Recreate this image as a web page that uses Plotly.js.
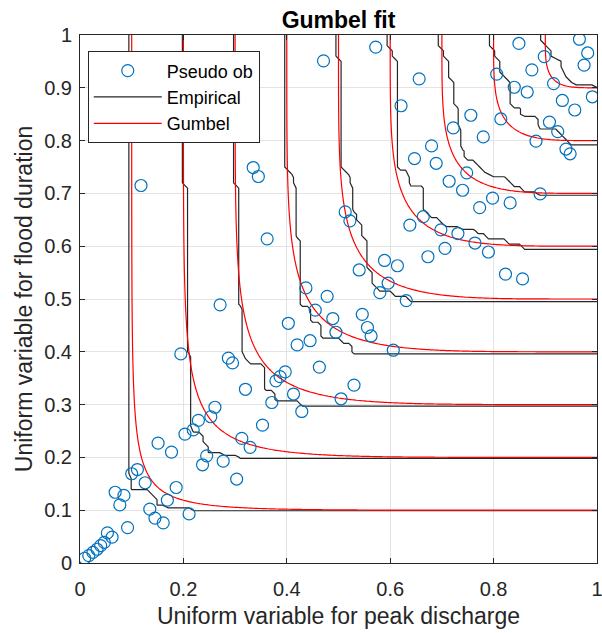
<!DOCTYPE html>
<html>
<head>
<meta charset="utf-8">
<script src="https://cdn.plot.ly/plotly-3.0.1.min.js"></script>
<style>html,body{margin:0;padding:0;background:#fff;overflow:hidden}#chart{width:602px;height:633px}</style>
</head>
<body>
<div id="chart"></div>
<script>
const pseudoU = [
0.009,0.017,0.025,0.033,0.040,0.047,0.053,0.062,0.068,0.077,0.085,0.092,
0.100,0.111,0.118,0.126,0.135,0.145,0.151,0.161,0.169,0.177,0.186,0.195,
0.203,0.211,0.219,0.229,0.237,0.245,0.253,0.261,0.271,0.277,0.287,0.295,
0.303,0.313,0.320,0.329,0.335,0.345,0.353,0.362,0.371,0.379,0.387,0.397,
0.403,0.413,0.420,0.429,0.437,0.445,0.455,0.463,0.471,0.478,0.489,0.495,
0.505,0.513,0.522,0.530,0.540,0.546,0.556,0.563,0.572,0.580,0.589,0.596,
0.606,0.614,0.621,0.631,0.638,0.647,0.656,0.664,0.673,0.680,0.689,0.698,
0.706,0.714,0.722,0.731,0.740,0.748,0.756,0.764,0.773,0.780,0.790,0.798,
0.806,0.814,0.823,0.832,0.840,0.849,0.856,0.865,0.874,0.882,0.890,0.898,
0.908,0.916,0.924,0.933,0.940,0.948,0.957,0.966,0.975,0.982,0.991
];
const pseudoV = [
0.009,0.014,0.020,0.026,0.033,0.039,0.057,0.049,0.134,0.110,0.128,0.067,
0.169,0.177,0.715,0.152,0.102,0.085,0.227,0.076,0.119,0.210,0.143,0.396,
0.244,0.093,0.252,0.270,0.186,0.203,0.277,0.295,0.489,0.193,0.388,0.379,
0.159,0.236,0.329,0.219,0.749,0.732,0.261,0.614,0.304,0.345,0.353,0.362,
0.454,0.320,0.413,0.287,0.521,0.421,0.479,0.371,0.951,0.505,0.463,0.437,
0.311,0.665,0.648,0.337,0.555,0.471,0.446,0.430,0.977,0.512,0.573,0.530,
0.403,0.563,0.866,0.497,0.640,0.766,0.917,0.656,0.580,0.790,0.757,0.631,
0.596,0.723,0.824,0.624,0.706,0.739,0.848,0.606,0.673,0.807,0.589,0.691,
0.926,0.841,0.547,0.682,0.901,0.984,0.538,0.892,0.934,0.799,0.699,0.959,
0.835,0.908,0.817,0.876,0.784,0.775,0.858,0.992,0.943,0.966,0.883
];
const contourLevels = [0.1,0.2,0.3,0.4,0.5,0.6,0.7,0.8,0.9];
const gumbelTheta = 3.8;       // fitted Gumbel copula parameter
const xTickVals = [0,0.2,0.4,0.6,0.8,1];
const yTickVals = [0,0.1,0.2,0.3,0.4,0.5,0.6,0.7,0.8,0.9,1];
const legendNames = ['Pseudo ob','Empirical','Gumbel'];

// grids
function grid(step){const g=[];const n=Math.round(1/step);for(let i=0;i<=n;i++)g.push(i/n);return g;}
const gE = grid(0.01);
const gG = grid(0.005);

// empirical copula
const nObs = pseudoU.length;
const zEmp = gE.map(b => gE.map(a => {
  let c=0; for(let i=0;i<nObs;i++){ if(pseudoU[i]<=a && pseudoV[i]<=b) c++; }
  return c/nObs;
}));
// Gumbel copula CDF
function gumbel(a,b,t){
  if(a<=0||b<=0) return 0;
  const s = Math.pow(-Math.log(a),t)+Math.pow(-Math.log(b),t);
  return Math.exp(-Math.pow(s,1/t));
}
const zGum = gG.map(b => gG.map(a => gumbel(a,b,gumbelTheta)));

const cStart = contourLevels[0], cEnd = contourLevels[contourLevels.length-1];
const cSize = contourLevels[1]-contourLevels[0];

const traces = [
  {type:'scatter', mode:'markers', x:pseudoU, y:pseudoV, name:legendNames[0],
   marker:{symbol:'circle-open', size:12, color:'#0072BD', line:{width:1.2, color:'#0072BD'}},
   hoverinfo:'skip'},
  {type:'contour', x:gE, y:gE, z:zEmp, name:legendNames[1], showlegend:true, showscale:false,
   autocontour:false, contours:{start:cStart, end:cEnd, size:cSize, coloring:'lines'},
   colorscale:[[0,'#262626'],[1,'#262626']], line:{width:1.2, smoothing:0}, hoverinfo:'skip'},
  {type:'contour', x:gG, y:gG, z:zGum, name:legendNames[2], showlegend:true, showscale:false,
   autocontour:false, contours:{start:cStart, end:cEnd, size:cSize, coloring:'lines'},
   colorscale:[[0,'#ff0000'],[1,'#ff0000']], line:{width:1.2}, hoverinfo:'skip'}
];

const axisCommon = {
  range:[0,1], ticks:'inside', ticklen:5, tickcolor:'#262626', tickwidth:1,
  showline:true, linecolor:'#262626', linewidth:1, mirror:'ticks',
  showgrid:true, gridcolor:'#e3e3e3', gridwidth:1, zeroline:false,
  tickfont:{size:20, color:'#262626'}, fixedrange:true, ticklabeloverflow:'allow'
};

const layout = {
  width:602, height:633,
  margin:{l:80, r:5, t:35, b:70, pad:0},
  paper_bgcolor:'#ffffff', plot_bgcolor:'#ffffff',
  font:{family:'"Liberation Sans", Arial, sans-serif', color:'#262626', size:20},
  title:{text:'Gumbel fit', font:{size:23, weight:'bold', color:'#000000'},
         x:0.5, xref:'paper', xanchor:'center', y:0.969, yref:'container', yanchor:'middle'},
  xaxis:Object.assign({}, axisCommon, {tickvals:xTickVals, ticklabelstandoff:8,
         title:{text:'Uniform variable for peak discharge', font:{size:23, color:'#262626'}, standoff:8}}),
  yaxis:Object.assign({}, axisCommon, {tickvals:yTickVals, ticklabelstandoff:3,
         title:{text:'Uniform variable for flood duration', font:{size:23, color:'#262626'}, standoff:5}}),
  showlegend:true,
  legend:{x:0.015, y:0.969, xanchor:'left', yanchor:'top', bgcolor:'#ffffff',
          bordercolor:'#262626', borderwidth:1, font:{size:18, color:'#000000'}, itemwidth:68,
          traceorder:'normal'}
};

Plotly.newPlot('chart', traces, layout, {displayModeBar:false, staticPlot:true});
</script>
</body>
</html>
